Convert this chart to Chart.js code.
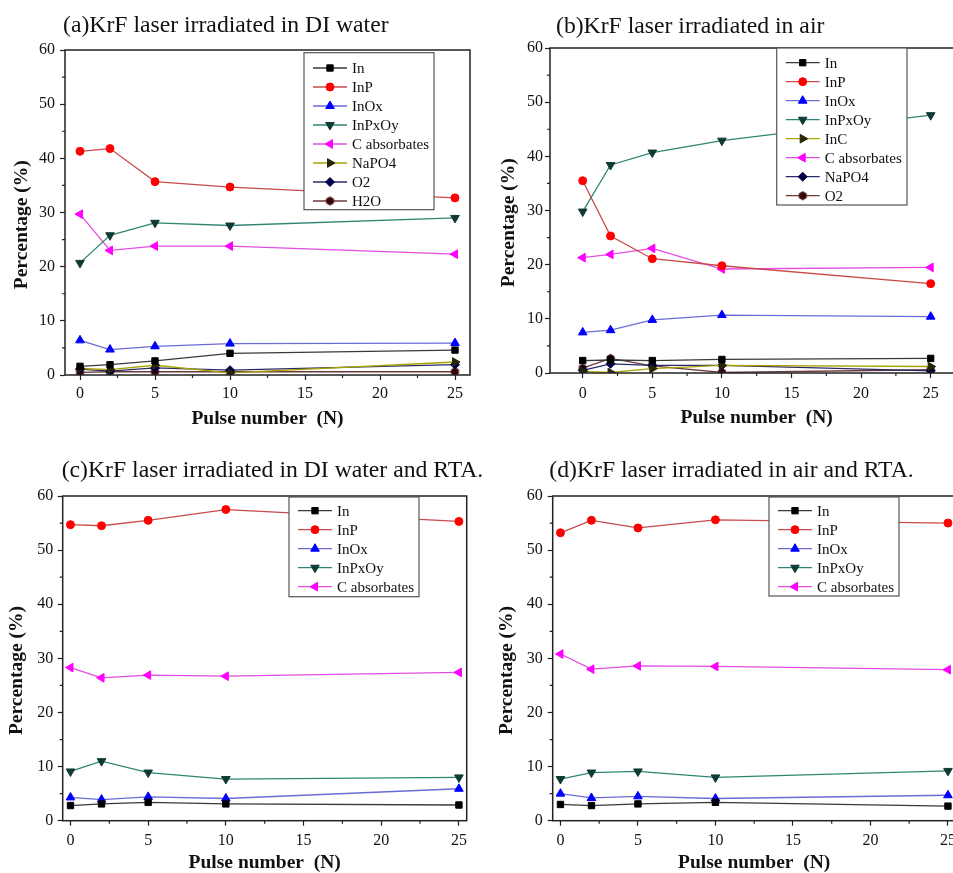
<!DOCTYPE html>
<html>
<head>
<meta charset="utf-8">
<script src="https://cdn.jsdelivr.net/npm/chart.js@4.4.1/dist/chart.umd.min.js"></script>
<style>
html, body { margin: 0; padding: 0; background: #fff; overflow: hidden; width: 953px; height: 873px; }
body { position: relative; }
canvas { position: absolute; }
</style>
</head>
<body>
<canvas id="pa"></canvas>
<canvas id="pb"></canvas>
<canvas id="pc"></canvas>
<canvas id="pd"></canvas>
<script>
// pulse numbers shared by all four panels
const pulses = [0, 2, 5, 10, 25];
const xTicks = [0, 5, 10, 15, 20, 25];
const yTicks = [0, 10, 20, 30, 40, 50, 60];

// (a) DI water
const aIn     = [1.6, 1.9, 2.6, 4.0, 4.6];
const aInP    = [41.3, 41.8, 35.7, 34.7, 32.7];
const aInOx   = [6.4, 4.7, 5.3, 5.8, 5.9];
const aInPxOy = [20.7, 25.8, 28.1, 27.6, 29.0];
const aCabs   = [29.7, 23.0, 23.8, 23.8, 22.3];
const aNaPO4  = [1.2, 1.0, 1.8, 0.4, 2.4];
const aO2     = [1.1, 0.7, 1.3, 0.9, 1.9];
const aH2O    = [0.5, 0.6, 0.6, 0.6, 0.6];

// (b) air
const bIn     = [2.3, 2.4, 2.3, 2.5, 2.7];
const bInP    = [35.5, 25.3, 21.1, 19.8, 16.5];
const bInOx   = [7.5, 7.9, 9.8, 10.7, 10.4];
const bInPxOy = [29.8, 38.4, 40.7, 42.9, 47.6];
const bInC    = [0.3, 0.1, 0.8, 1.4, 1.2];
const bCabs   = [21.3, 21.9, 23.0, 19.2, 19.5];
const bNaPO4  = [0.5, 1.7, 1.4, 1.4, 0.4];
const bO2     = [0.9, 2.7, 1.3, 0.1, 0.6];

// (c) DI water + RTA
const cIn     = [2.8, 3.1, 3.4, 3.1, 2.9];
const cInP    = [54.7, 54.5, 55.5, 57.5, 55.3];
const cInOx   = [4.3, 3.9, 4.4, 4.1, 5.9];
const cInPxOy = [9.1, 11.0, 8.9, 7.7, 8.0];
const cCabs   = [28.3, 26.4, 26.9, 26.7, 27.4];

// (d) air + RTA
const dIn     = [3.0, 2.8, 3.1, 3.4, 2.7];
const dInP    = [53.2, 55.5, 54.1, 55.6, 55.0];
const dInOx   = [5.0, 4.2, 4.5, 4.1, 4.7];
const dInPxOy = [7.7, 8.9, 9.1, 8.0, 9.2];
const dCabs   = [30.8, 28.0, 28.6, 28.5, 27.9];

const SERIF = '"Liberation Serif", "Times New Roman", serif';
Chart.defaults.font.family = SERIF;
Chart.defaults.color = '#111';

function hexMarker(color, r) {
  const c = document.createElement('canvas');
  c.width = c.height = Math.ceil(2 * r + 2);
  const g = c.getContext('2d');
  g.fillStyle = color;
  g.beginPath();
  for (let k = 0; k < 6; k++) {
    const a = Math.PI / 3 * k + Math.PI / 6;
    g.lineTo(c.width / 2 + r * Math.cos(a), c.height / 2 + r * Math.sin(a));
  }
  g.closePath();
  g.fill();
  return c;
}

const looks = {
  In:      {line: '#3a3a3a', fill: '#000000', shape: 'rect', rot: 0, r: 4.5},
  InP:     {line: '#c94a4a', fill: '#ff0000', shape: 'circle', rot: 0, r: 4},
  InOx:    {line: '#6b6bd6', fill: '#0000ff', shape: 'triangle', rot: 0, r: 5},
  InPxOy:  {line: '#2f8573', fill: '#0f3a34', shape: 'triangle', rot: 180, r: 5},
  Cabs:    {line: '#e34de3', fill: '#ff00ff', shape: 'triangle', rot: 270, r: 5},
  olive:   {line: '#a9a200', fill: '#262600', shape: 'triangle', rot: 90, r: 5},
  diamond: {line: '#2a2a6a', fill: '#000044', shape: 'rectRot', rot: 0, r: 4.5},
  hex:     {line: '#6b3a3a', fill: '#3a0505', shape: hexMarker('#3a0505', 4.5), rot: 0, r: 4.5}
};

function series(label, values, lookName) {
  const lk = looks[lookName];
  return {
    label: label,
    data: pulses.map((x, i) => ({x: x, y: values[i]})),
    borderColor: lk.line,
    borderWidth: 1.3,
    pointStyle: lk.shape,
    pointRotation: lk.rot,
    pointRadius: lk.r,
    pointHoverRadius: lk.r,
    pointBackgroundColor: lk.fill,
    pointBorderColor: lk.fill,
    pointBorderWidth: 1,
    tension: 0
  };
}

// frame, minor ticks, panel title and boxed legend
const decor = {
  id: 'decor',
  afterDatasetsDraw(chart, args, o) {
    const {ctx, chartArea: ca} = chart;
    const xs = chart.scales.x, ys = chart.scales.y;
    ctx.save();
    ctx.strokeStyle = '#222';
    ctx.lineWidth = 1.5;
    ctx.strokeRect(ca.left, ca.top, ca.right - ca.left, ca.bottom - ca.top);

    ctx.lineWidth = 1.2;
    ctx.beginPath();
    for (let v = 2.5; v < xs.max; v += 5) {
      const px = xs.getPixelForValue(v);
      ctx.moveTo(px, ca.bottom); ctx.lineTo(px, ca.bottom + 3);
    }
    for (let v = 5; v < 60; v += 10) {
      const py = ys.getPixelForValue(v);
      ctx.moveTo(ca.left, py); ctx.lineTo(ca.left - 3, py);
    }
    ctx.stroke();

    ctx.fillStyle = '#111';
    ctx.font = '23.7px ' + SERIF;
    ctx.textBaseline = 'alphabetic';
    ctx.textAlign = 'left';
    ctx.fillText(o.title, o.tpos[0], o.tpos[1]);

    const [dx, dy, w, h, first] = o.legend;
    const x0 = ca.left + dx, y0 = ca.top + dy;
    ctx.fillStyle = '#fff';
    ctx.fillRect(x0, y0, w, h);
    ctx.strokeStyle = '#555';
    ctx.lineWidth = 1.2;
    ctx.strokeRect(x0, y0, w, h);
    ctx.font = '15px ' + SERIF;
    ctx.textBaseline = 'middle';
    chart.data.datasets.forEach((ds, i) => {
      const y = y0 + first + i * 19;
      ctx.strokeStyle = ds.borderColor;
      ctx.lineWidth = ds.borderWidth;
      ctx.beginPath();
      ctx.moveTo(x0 + 9, y); ctx.lineTo(x0 + 43, y);
      ctx.stroke();
      ctx.fillStyle = ds.pointBackgroundColor;
      ctx.strokeStyle = ds.pointBorderColor;
      ctx.lineWidth = 1;
      if (Chart.helpers && Chart.helpers.drawPoint) {
        Chart.helpers.drawPoint(ctx, {pointStyle: ds.pointStyle, rotation: ds.pointRotation, radius: ds.pointRadius, borderWidth: 1}, x0 + 26, y);
      }
      ctx.fillStyle = '#111';
      ctx.fillText(ds.label, x0 + 48, y + 1);
    });
    ctx.restore();
  }
};

const panels = [
  {id: 'pa', left: 0, top: 0, w: 478, h: 440, area: [65, 50, 470, 375], xRange: [-1, 26],
   title: '(a)KrF laser irradiated in DI water', tpos: [63, 31.5],
   legend: [239, 2.7, 130, 157, 15.3], pads: {yt: 10, xt: 9, yk: 5, xk: 4},
   sets: [['In', aIn, 'In'], ['InP', aInP, 'InP'], ['InOx', aInOx, 'InOx'], ['InPxOy', aInPxOy, 'InPxOy'],
          ['C absorbates', aCabs, 'Cabs'], ['NaPO4', aNaPO4, 'olive'], ['O2', aO2, 'diamond'], ['H2O', aH2O, 'hex']]},
  {id: 'pb', left: 480, top: 0, w: 500, h: 440, area: [70, 48, 483.4, 373], xRange: [-2.35, 27.35],
   title: '(b)KrF laser irradiated in air', tpos: [76, 33],
   legend: [226.7, 0, 130.3, 157, 14.7], pads: {yt: 17.6, xt: 10, yk: 2, xk: 6},
   sets: [['In', bIn, 'In'], ['InP', bInP, 'InP'], ['InOx', bInOx, 'InOx'], ['InPxOy', bInPxOy, 'InPxOy'],
          ['InC', bInC, 'olive'], ['C absorbates', bCabs, 'Cabs'], ['NaPO4', bNaPO4, 'diamond'], ['O2', bO2, 'hex']]},
  {id: 'pc', left: 0, top: 440, w: 490, h: 445, area: [62.7, 56, 466.7, 380.7], xRange: [-0.5, 25.5],
   title: '(c)KrF laser irradiated in DI water and RTA.', tpos: [61.7, 36.7],
   legend: [226.3, 1, 130, 99.7, 13.7], pads: {yt: 5, xt: 10, yk: 4.4, xk: 5},
   sets: [['In', cIn, 'In'], ['InP', cInP, 'InP'], ['InOx', cInOx, 'InOx'], ['InPxOy', cInPxOy, 'InPxOy'],
          ['C absorbates', cCabs, 'Cabs']]},
  {id: 'pd', left: 480, top: 440, w: 500, h: 445, area: [72.7, 56, 475.7, 380.7], xRange: [-0.5, 25.5],
   title: '(d)KrF laser irradiated in air and RTA.', tpos: [69.3, 36.7],
   legend: [216.3, 1, 130, 99, 13.7], pads: {yt: 15, xt: 10, yk: 5, xk: 5},
   sets: [['In', dIn, 'In'], ['InP', dInP, 'InP'], ['InOx', dInOx, 'InOx'], ['InPxOy', dInPxOy, 'InPxOy'],
          ['C absorbates', dCabs, 'Cabs']]}
];

panels.forEach(p => {
  const cv = document.getElementById(p.id);
  cv.width = p.w; cv.height = p.h;
  cv.style.left = p.left + 'px'; cv.style.top = p.top + 'px';
  cv.style.width = p.w + 'px'; cv.style.height = p.h + 'px';
  const [l, t, r, b] = p.area;
  new Chart(cv, {
    type: 'line',
    data: {datasets: p.sets.map(s => series(s[0], s[1], s[2]))},
    options: {
      responsive: false,
      animation: false,
      events: [],
      layout: {padding: {left: 0, top: t, right: p.w - r, bottom: 0}},
      plugins: {
        legend: {display: false},
        title: {display: false},
        tooltip: {enabled: false},
        decor: {title: p.title, tpos: p.tpos, legend: p.legend}
      },
      scales: {
        x: {
          type: 'linear', min: p.xRange[0], max: p.xRange[1],
          afterFit: s => { s.height = p.h - b; },
          afterBuildTicks: s => { s.ticks = xTicks.map(v => ({value: v})); },
          border: {display: false},
          grid: {drawOnChartArea: false, drawTicks: true, tickLength: 5, tickColor: '#222', tickWidth: 1.2},
          ticks: {font: {size: 16}, color: '#111', padding: p.pads.xk, maxRotation: 0},
          title: {display: true, text: 'Pulse number  (N)', font: {size: 19.5, weight: 'bold'}, color: '#111',
                  padding: {top: 0, bottom: p.pads.xt}}
        },
        y: {
          min: 0, max: 60,
          afterFit: s => { s.width = l; },
          afterBuildTicks: s => { s.ticks = yTicks.map(v => ({value: v})); },
          border: {display: false},
          grid: {drawOnChartArea: false, drawTicks: true, tickLength: 5, tickColor: '#222', tickWidth: 1.2},
          ticks: {font: {size: 16}, color: '#111', padding: p.pads.yk},
          // trailing spaces push the rotated label a little below centre, as in the original
          title: {display: true, text: 'Percentage (%)     ', font: {size: 19.5, weight: 'bold'}, color: '#111',
                  padding: {top: p.pads.yt, bottom: 0}}
        }
      }
    },
    plugins: [decor]
  });
});
</script>
</body>
</html>
